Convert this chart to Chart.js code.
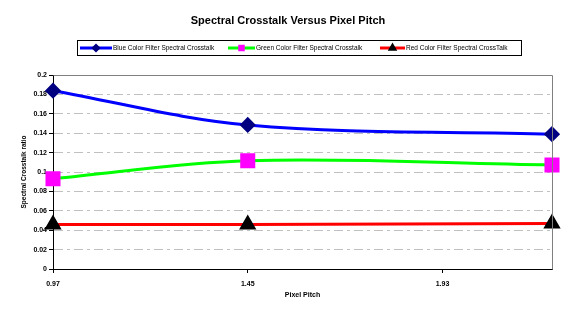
<!DOCTYPE html>
<html>
<head>
<meta charset="utf-8">
<script src="https://cdn.jsdelivr.net/npm/chart.js@4/dist/chart.umd.min.js"></script>
<style>
  html, body { margin: 0; padding: 0; background: #fff; }
  #wrap { width: 576px; height: 320px; }
</style>
</head>
<body>
<div id="wrap"><canvas id="crosstalkChart"></canvas></div>
<script>
// Pixel pitch values (x) and crosstalk ratios
const pixelPitch = [0.97, 1.45, 2.2];
const blueCrosstalk = [0.1838, 0.1485, 0.139];
const greenCrosstalk = [0.0931, 0.1116, 0.1072];
const redCrosstalk = [0.046, 0.046, 0.047];
const pitchTicks = [0.97, 1.45, 1.93];
const seriesNames = [
  'Blue Color Filter Spectral Crosstalk',
  'Green Color Filter Spectral Crosstalk',
  'Red Color Filter Spectral CrossTalk'
];

const toPoints = ys => pixelPitch.map((x, i) => ({ x: x, y: ys[i] }));

// legend box + top/right frame lines (Excel style)
const excelFrame = {
  id: 'excelFrame',
  afterDraw(chart) {
    const ctx = chart.ctx;
    const a = chart.chartArea;
    ctx.save();
    ctx.strokeStyle = '#808080';
    ctx.lineWidth = 1;
    ctx.beginPath();
    ctx.moveTo(Math.round(a.left) + 0.5, Math.round(a.top) + 0.5);
    ctx.lineTo(Math.round(a.right) + 0.5, Math.round(a.top) + 0.5);
    ctx.lineTo(Math.round(a.right) + 0.5, Math.round(a.bottom) + 0.5);
    ctx.stroke();

    // legend
    ctx.strokeStyle = '#000';
    ctx.strokeRect(77.5, 40.5, 444, 15);
    const items = [
      { x0: 80, x1: 112 },
      { x0: 228, x1: 255 },
      { x0: 380, x1: 405 }
    ];
    ctx.font = '6.5px Arial';
    ctx.textBaseline = 'middle';
    chart.data.datasets.forEach((ds, i) => {
      const it = items[i];
      const y = 48;
      ctx.strokeStyle = ds.borderColor;
      ctx.lineWidth = 3;
      ctx.beginPath();
      ctx.moveTo(it.x0, y);
      ctx.lineTo(it.x1, y);
      ctx.stroke();
      ctx.fillStyle = ds.pointBackgroundColor;
      ctx.strokeStyle = ds.pointBorderColor;
      Chart.helpers.drawPoint(ctx, {
        pointStyle: ds.pointStyle, radius: 2.5, borderWidth: 1
      }, (it.x0 + it.x1) / 2, y);
      ctx.fillStyle = '#000';
      ctx.fillText(ds.label, it.x1 + 1, y);
    });
    ctx.restore();
  }
};

new Chart(document.getElementById('crosstalkChart'), {
  type: 'line',
  data: {
    datasets: [
      {
        label: seriesNames[0],
        data: toPoints(blueCrosstalk),
        borderColor: '#0000ff',
        borderWidth: 3,
        tension: 0.35,
        clip: false,
        pointStyle: 'rectRot',
        pointRadius: 6,
        pointBackgroundColor: '#000080',
        pointBorderColor: '#000080'
      },
      {
        label: seriesNames[1],
        data: toPoints(greenCrosstalk),
        borderColor: '#00ff00',
        borderWidth: 3,
        tension: 0.35,
        clip: false,
        pointStyle: 'rect',
        pointRadius: 8.5,
        pointBackgroundColor: '#ff00ff',
        pointBorderColor: '#ff00ff'
      },
      {
        label: seriesNames[2],
        data: toPoints(redCrosstalk),
        borderColor: '#ff0000',
        borderWidth: 3,
        tension: 0.35,
        clip: false,
        pointStyle: 'triangle',
        pointRadius: 7,
        pointBackgroundColor: '#000',
        pointBorderColor: '#000'
      }
    ]
  },
  options: {
    responsive: true,
    maintainAspectRatio: false,
    animation: false,
    layout: { padding: 0 },
    plugins: {
      legend: { display: false },
      tooltip: { enabled: false },
      title: {
        display: true,
        text: 'Spectral Crosstalk Versus Pixel Pitch',
        color: '#000',
        font: { family: 'Arial', size: 11, weight: 'bold' },
        padding: { top: 14, bottom: 47.8 }
      }
    },
    scales: {
      x: {
        type: 'linear',
        min: 0.97,
        max: 2.2,
        afterBuildTicks: s => { s.ticks = pitchTicks.map(v => ({ value: v })); },
        afterFit: s => { s.height = 51; },
        grid: { drawOnChartArea: false, tickLength: 4, color: '#000' },
        border: { color: '#000', width: 1 },
        ticks: {
          color: '#000',
          padding: 7,
          maxRotation: 0,
          font: { family: 'Arial', size: 7, weight: 'bold' },
          callback: v => String(v)
        },
        title: {
          display: true,
          text: 'Pixel Pitch',
          color: '#000',
          font: { family: 'Arial', size: 7, weight: 'bold' },
          padding: { top: 21, bottom: 21 }
        }
      },
      y: {
        min: 0,
        max: 0.2,
        afterFit: s => { s.width = 53; },
        grid: { color: '#c0c0c0', tickColor: '#000', tickLength: 4 },
        border: { color: '#000', width: 1, dash: [9, 4, 3, 4] },
        ticks: {
          stepSize: 0.02,
          color: '#000',
          padding: 2,
          font: { family: 'Arial', size: 7, weight: 'bold' },
          callback: v => String(+v.toFixed(2))
        },
        title: {
          display: true,
          text: 'Spectral Crosstalk ratio',
          color: '#000',
          font: { family: 'Arial', size: 6.5, weight: 'bold' },
          padding: { top: 20, bottom: 0 }
        }
      },
      // empty right-hand strip so the title stays centred on the whole canvas
      yRight: {
        position: 'right',
        min: 0,
        max: 0.2,
        afterFit: s => { s.width = 24; },
        grid: { display: false },
        border: { display: false },
        ticks: { display: false }
      }
    }
  },
  plugins: [excelFrame]
});
</script>
</body>
</html>
